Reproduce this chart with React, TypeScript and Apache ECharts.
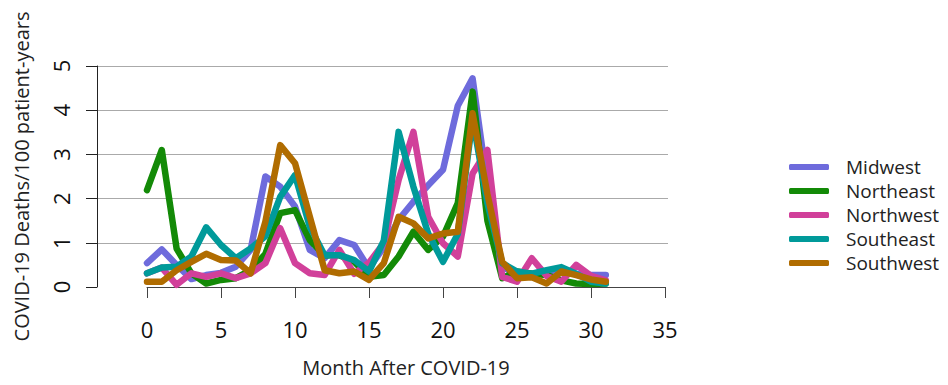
import React, { useEffect, useRef } from "react";
import * as echarts from "echarts";

const months = [0, 1, 2, 3, 4, 5, 6, 7, 8, 9, 10, 11, 12, 13, 14, 15, 16, 17, 18, 19, 20, 21, 22, 23, 24, 25, 26, 27, 28, 29, 30, 31];

const midwest = [0.54, 0.85, 0.5, 0.18, 0.27, 0.32, 0.46, 0.84, 2.5, 2.27, 1.82, 0.84, 0.65, 1.06, 0.95, 0.42, 0.9, 1.52, 1.93, 2.3, 2.65, 4.1, 4.72, 2.3, 0.45, 0.3, 0.3, 0.3, 0.35, 0.3, 0.27, 0.27];
const northeast = [2.19, 3.1, 0.87, 0.31, 0.08, 0.16, 0.2, 0.38, 0.75, 1.67, 1.74, 1.06, 0.72, 0.72, 0.57, 0.23, 0.27, 0.69, 1.25, 0.84, 1.14, 1.9, 4.42, 1.5, 0.2, 0.35, 0.3, 0.27, 0.15, 0.08, 0.07, 0.08];
const northwest = [0.31, 0.44, 0.05, 0.31, 0.23, 0.31, 0.2, 0.31, 0.54, 1.33, 0.54, 0.31, 0.27, 0.84, 0.3, 0.55, 0.99, 2.42, 3.51, 1.59, 0.99, 0.69, 2.57, 3.1, 0.23, 0.12, 0.65, 0.25, 0.12, 0.5, 0.25, 0.15];
const southeast = [0.31, 0.44, 0.46, 0.69, 1.35, 0.95, 0.65, 0.87, 1.15, 2.04, 2.53, 1.36, 0.72, 0.72, 0.61, 0.35, 1.05, 3.51, 2.27, 1.21, 0.57, 1.2, 3.8, 1.9, 0.54, 0.35, 0.3, 0.38, 0.45, 0.3, 0.12, 0.08];
const southwest = [0.12, 0.12, 0.38, 0.57, 0.75, 0.61, 0.6, 0.31, 1.48, 3.21, 2.8, 1.59, 0.38, 0.31, 0.35, 0.16, 0.54, 1.59, 1.44, 1.1, 1.21, 1.25, 3.93, 2.1, 0.57, 0.2, 0.22, 0.08, 0.35, 0.27, 0.17, 0.12];

const regions = ["Midwest", "Northeast", "Northwest", "Southeast", "Southwest"];
const regionValues = [midwest, northeast, northwest, southeast, southwest];
const colors = ["#6E6BDC", "#138A07", "#D1409A", "#009A9A", "#B06C00"];

const FONT = "'Open Sans', 'Noto Sans', sans-serif";

export default function App() {
  const ref = useRef<HTMLDivElement>(null);
  useEffect(() => {
    if (!ref.current) return;
    const chart = echarts.init(ref.current, null, { renderer: "svg" });
    const series = regions.map((name, k) => ({
      name,
      type: "line",
      xAxisIndex: 1,
      yAxisIndex: 1,
      data: months.map((m, i) => [m, regionValues[k][i]]),
      showSymbol: false,
      symbol: "none",
      lineStyle: { width: 6.5, color: colors[k], cap: "round", join: "round" },
      itemStyle: { color: colors[k] },
      z: 3 + k,
    }));
    chart.setOption({
      animation: false,
      backgroundColor: "#ffffff",
      textStyle: { fontFamily: FONT },
      grid: [
        { left: 97, top: 66, width: 571, height: 221 },
        { left: 147, top: 66, width: 518, height: 221 },
      ],
      xAxis: [
        { gridIndex: 0, type: "value", min: 0, max: 1, show: false },
        {
          gridIndex: 1,
          type: "value",
          min: 0,
          max: 35,
          interval: 5,
          offset: 8,
          axisLine: { show: true, lineStyle: { color: "#444", width: 1 } },
          axisTick: { show: true, length: 11, lineStyle: { color: "#444" } },
          axisLabel: { fontSize: 22, color: "#111", margin: 23, fontFamily: FONT },
          splitLine: { show: false },
          name: "Month After COVID-19",
          nameLocation: "middle",
          nameGap: 62,
          nameTextStyle: { fontSize: 20, color: "#222", fontFamily: FONT },
        },
      ],
      yAxis: [
        {
          gridIndex: 0,
          type: "value",
          min: 0,
          max: 5,
          interval: 1,
          axisLine: { show: true, lineStyle: { color: "#222", width: 1 } },
          axisTick: { show: true, length: 11, lineStyle: { color: "#222" } },
          axisLabel: { fontSize: 22, color: "#111", rotate: 90, margin: 25, fontFamily: FONT },
          splitLine: { show: true, showMinLine: false, lineStyle: { color: "#aaaaaa", width: 1.2 } },
          name: "COVID-19 Deaths/100 patient-years",
          nameLocation: "middle",
          nameRotate: 90,
          nameGap: 66,
          nameTextStyle: { fontSize: 20, color: "#222", fontFamily: FONT },
        },
        { gridIndex: 1, type: "value", min: 0, max: 5, show: false },
      ],
      legend: {
        orient: "vertical",
        left: 784,
        top: 151,
        icon: "roundRect",
        itemWidth: 40,
        itemHeight: 6,
        itemGap: 2,
        data: regions,
        textStyle: { fontSize: 19, color: "#222", fontFamily: FONT, lineHeight: 22, padding: [0, 0, 0, 12] },
      },
      series,
    });
    return () => chart.dispose();
  }, []);
  return <div ref={ref} style={{ width: 948, height: 385, margin: -8 }} />;
}
